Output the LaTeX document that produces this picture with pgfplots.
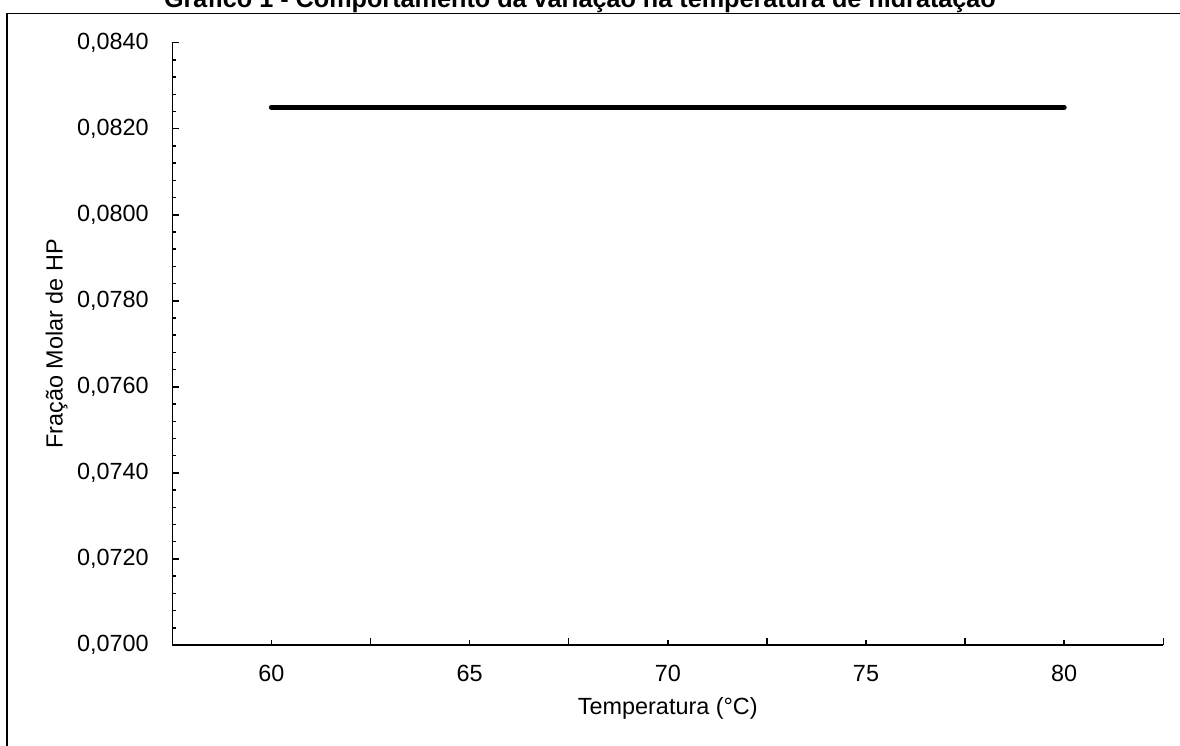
\documentclass[border=0pt]{standalone}
\usepackage{fontspec}
\setmainfont{Liberation Sans}
\usepackage{pgfplots}
\pgfplotsset{compat=1.18}
\begin{document}
\begin{tikzpicture}[font=\fontsize{11.7bp}{14bp}\selectfont]
\useasboundingbox (0,0) rectangle (590bp,373bp);
\clip (0,0) rectangle (590bp,373bp);
\fill[white] (0,0) rectangle (590bp,373bp);
\draw[line width=0.75bp] (3.5bp,-20bp) rectangle (620bp,366.25bp);
\node[anchor=base, inner sep=0pt, font=\fontsize{12.6bp}{15bp}\selectfont\bfseries] at (290bp,369.3bp) {Gráfico 1 - Comportamento da variação na temperatura de hidratação};
\begin{axis}[
  at={(86.15bp,50.5bp)}, anchor=south west,
  scale only axis, width=495.5bp, height=301.15bp,
  xmin=57.5, xmax=82.5, ymin=0.07, ymax=0.084,
  axis x line*=bottom, axis y line*=left,
  axis line style={line width=0.75bp, -},
  tick align=inside,
  every tick/.style={black, line width=0.75bp},
  major tick length=3.3bp, minor tick length=1.75bp,
  xtick={57.5,62.5,67.5,72.5,77.5,82.5}, xticklabels={},
  extra x ticks={60,65,70,75,80},
  extra x tick labels={60,65,70,75,80},
  extra x tick style={major tick length=2.5bp},
  ytick={0.070,0.072,0.074,0.076,0.078,0.080,0.082,0.084},
  minor y tick num=4,
  scaled y ticks=false,
  /pgf/number format/assume math mode=true,
  yticklabel style={/pgf/number format/.cd, fixed, fixed zerofill, precision=4, use comma, /tikz/.cd, anchor=east, inner sep=0pt, xshift=-11.65bp},
  xticklabel style={anchor=north, inner sep=0pt, yshift=-10bp},
  xlabel={Temperatura (°C)},
  ylabel={Fração Molar de HP},
  xlabel style={at={(axis description cs:0.5,-0.1162)}, anchor=base},
  ylabel style={at={(axis description cs:-0.1106,0.5)}, anchor=base},
  clip=false,
]
\addplot[black, line width=2.5bp, line cap=round] coordinates {
(60,0.0825) (65,0.0825) (70,0.0825) (75,0.0825) (80,0.0825)
};
\end{axis}
\end{tikzpicture}
\end{document}
